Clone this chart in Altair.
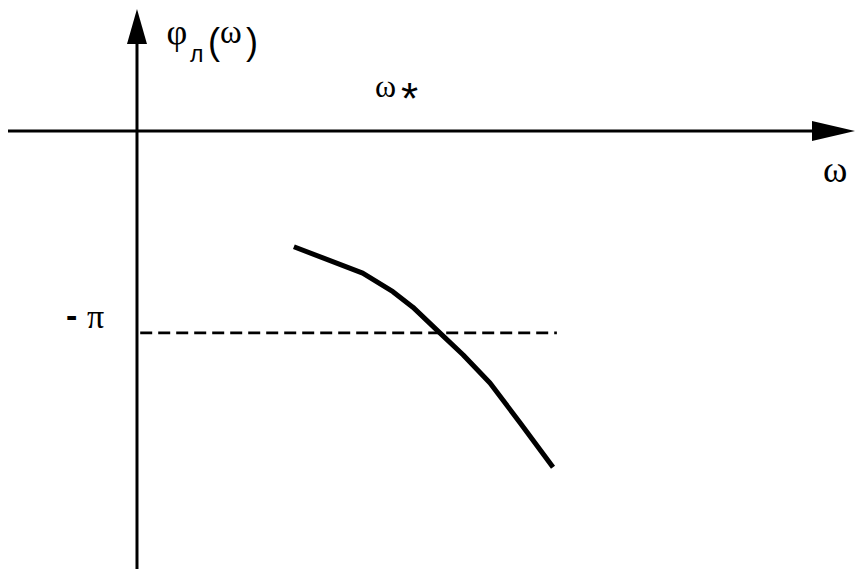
import altair as alt
import pandas as pd

# Schematic phase characteristic (units: -pi at phi = -3.14)
curve_w = [2.44, 3.51, 3.98, 4.29, 4.71, 5.07, 5.49, 5.96, 6.47]
curve_phi = [-1.80, -2.21, -2.50, -2.74, -3.14, -3.48, -3.92, -4.54, -5.23]

minus_pi = -3.14
dash_w = [0.05, 6.53]

x_dom = [-2.006, 11.213]
y_dom = [-6.812, 1.913]

# annotation texts (serif glyphs)
serif_txt = ["φ", "ω", "ω", "ω", "π"]
serif_x = [0.46, 1.291, 3.701, 10.669, -0.778]
serif_y = [1.353, 1.369, 0.529, -0.793, -3.064]
serif_fs = [36, 33, 32, 37, 34]

# annotation texts (sans glyphs)
sans_txt = ["л", "(", ")", "*"]
sans_x = [0.824, 1.104, 1.695, 4.106]
sans_y = [1.073, 1.198, 1.198, 0.264]
sans_fs = [23, 36, 36, 44]

minus_txt = ["-"]
minus_x = [-1.104]
minus_y = [-3.048]

xs = alt.Scale(domain=x_dom, nice=False, zero=False)
ys = alt.Scale(domain=y_dom, nice=False, zero=False)

curve_df = pd.DataFrame({"w": curve_w, "phi": curve_phi, "i": range(len(curve_w))})
curve = alt.Chart(curve_df).mark_line(color="black", strokeWidth=5, strokeCap="butt", strokeJoin="round").encode(
    x=alt.X("w:Q", scale=xs, axis=None),
    y=alt.Y("phi:Q", scale=ys, axis=None),
    order="i:Q",
)

dash_df = pd.DataFrame({"x1": [dash_w[0]], "x2": [dash_w[1]], "y": [minus_pi]})
dash = alt.Chart(dash_df).mark_rule(color="black", strokeWidth=2.8, strokeDash=[12, 6]).encode(
    x=alt.X("x1:Q", scale=xs, axis=None), x2="x2:Q", y=alt.Y("y:Q", scale=ys, axis=None)
)

haxis_df = pd.DataFrame({"x1": [x_dom[0]], "x2": [10.5], "y": [0.0]})
haxis = alt.Chart(haxis_df).mark_rule(color="black", strokeWidth=3).encode(
    x=alt.X("x1:Q", scale=xs, axis=None), x2="x2:Q", y=alt.Y("y:Q", scale=ys, axis=None)
)
vaxis_df = pd.DataFrame({"x": [0.0], "y1": [y_dom[0]], "y2": [1.4]})
vaxis = alt.Chart(vaxis_df).mark_rule(color="black", strokeWidth=3).encode(
    x=alt.X("x:Q", scale=xs, axis=None), y=alt.Y("y1:Q", scale=ys, axis=None), y2="y2:Q"
)

up_df = pd.DataFrame({"x": [0.0], "y": [1.625]})
up = alt.Chart(up_df).mark_point(
    shape="M0,-1L0.571,1L-0.571,1Z", size=1225, filled=True, color="black", opacity=1, strokeWidth=0
).encode(x=alt.X("x:Q", scale=xs, axis=None), y=alt.Y("y:Q", scale=ys, axis=None))

right_df = pd.DataFrame({"x": [10.832], "y": [0.0]})
right = alt.Chart(right_df).mark_point(
    shape="M1,0L-1,-0.465L-1,0.465Z", size=1849, filled=True, color="black", opacity=1, strokeWidth=0
).encode(x=alt.X("x:Q", scale=xs, axis=None), y=alt.Y("y:Q", scale=ys, axis=None))

serif_df = pd.DataFrame({"t": serif_txt, "x": serif_x, "y": serif_y, "fs": serif_fs})
serif = alt.Chart(serif_df).mark_text(
    font="Liberation Serif", align="left", baseline="alphabetic", color="black"
).encode(
    x=alt.X("x:Q", scale=xs, axis=None), y=alt.Y("y:Q", scale=ys, axis=None),
    text="t:N", size=alt.Size("fs:Q", scale=None, legend=None)
)

sans_df = pd.DataFrame({"t": sans_txt, "x": sans_x, "y": sans_y, "fs": sans_fs})
sans = alt.Chart(sans_df).mark_text(
    font="Liberation Sans", align="left", baseline="alphabetic", color="black"
).encode(
    x=alt.X("x:Q", scale=xs, axis=None), y=alt.Y("y:Q", scale=ys, axis=None),
    text="t:N", size=alt.Size("fs:Q", scale=None, legend=None)
)

minus_df = pd.DataFrame({"t": minus_txt, "x": minus_x, "y": minus_y})
minus = alt.Chart(minus_df).mark_text(
    font="Liberation Sans", fontWeight="bold", fontSize=34, align="left", baseline="alphabetic", color="black"
).encode(
    x=alt.X("x:Q", scale=xs, axis=None), y=alt.Y("y:Q", scale=ys, axis=None), text="t:N"
)

chart = alt.layer(haxis, vaxis, up, right, dash, curve, serif, sans, minus).properties(
    width=850, height=561, padding=0, autosize=alt.AutoSizeParams(type="none"), background="white"
).configure_view(stroke=None)

chart.save("out.html", embed_options={"renderer": "svg", "actions": False})
